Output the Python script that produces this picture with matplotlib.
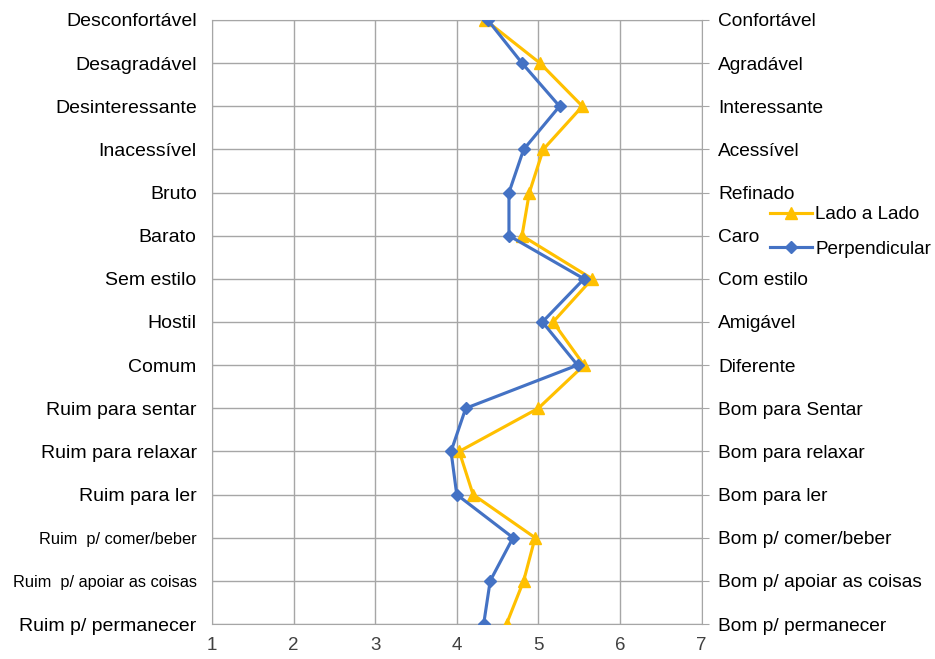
import numpy as np
import matplotlib.pyplot as plt

# DATA -----------------------------------------------------------------------+
left_labels = ['Desconfortável', 'Desagradável', 'Desinteressante', 'Inacessível',
               'Bruto', 'Barato', 'Sem estilo', 'Hostil', 'Comum',
               'Ruim para sentar', 'Ruim para relaxar', 'Ruim para ler',
               'Ruim  p/ comer/beber', 'Ruim  p/ apoiar as coisas', 'Ruim p/ permanecer']
right_labels = ['Confortável', 'Agradável', 'Interessante', 'Acessível',
                'Refinado', 'Caro', 'Com estilo', 'Amigável', 'Diferente',
                'Bom para Sentar', 'Bom para relaxar', 'Bom para ler',
                'Bom p/ comer/beber', 'Bom p/ apoiar as coisas', 'Bom p/ permanecer']
lado_a_lado = [4.35, 5.02, 5.54, 5.06, 4.89, 4.80, 5.66, 5.18, 5.56,
               5.00, 4.03, 4.20, 4.96, 4.82, 4.61]
perpendicular = [4.38, 4.80, 5.26, 4.82, 4.64, 4.64, 5.56, 5.05, 5.48,
                 4.11, 3.93, 4.00, 4.69, 4.41, 4.33]
x_ticks = [1, 2, 3, 4, 5, 6, 7]

# PLOT -----------------------------------------------------------------------+
plt.rcParams['font.family'] = ['Liberation Sans', 'DejaVu Sans']
fig = plt.figure(figsize=(9.35, 6.59), dpi=100)
ax = fig.add_axes([0.2267, 0.0531, 0.5236, 0.9166])

rows = np.arange(len(left_labels))
ax.plot(lado_a_lado, rows, color='#FFC000', lw=2.25, marker='^', ms=8,
        label='Lado a Lado', zorder=3)
ax.plot(perpendicular, rows, color='#4472C4', lw=2.25, marker='D', ms=6,
        label='Perpendicular', zorder=4)

ax.set_xlim(1, 7)
ax.set_ylim(len(rows) - 1, 0)
ax.set_xticks(x_ticks)
ax.set_yticks(rows)
ax.set_yticklabels(left_labels)
ax.grid(True, color='#a6a6a6', lw=1)
for s in ax.spines.values():
    s.set_color('#a6a6a6')
ax.tick_params(axis='x', length=0, labelsize=13.5, pad=9, colors='#404040')
ax.tick_params(axis='y', length=0, labelsize=14, pad=11)
for lab in ax.get_yticklabels():
    lab.set_color('black')
ax.get_yticklabels()[12].set_fontsize(11.8)
ax.get_yticklabels()[13].set_fontsize(11.8)

ax2 = ax.twinx()
ax2.set_ylim(ax.get_ylim())
ax2.set_yticks(rows)
ax2.set_yticklabels(right_labels)
ax2.tick_params(axis='y', length=5, color='#a6a6a6', labelsize=13.8, pad=7)
for s in ax2.spines.values():
    s.set_visible(False)

fig.legend(loc='upper left', bbox_to_anchor=(0.8235, 0.687), frameon=False,
           fontsize=13.6, handlelength=2.2, handletextpad=0.2, labelspacing=0.9,
           borderpad=0, borderaxespad=0)

fig.savefig('out.png', dpi=100)
